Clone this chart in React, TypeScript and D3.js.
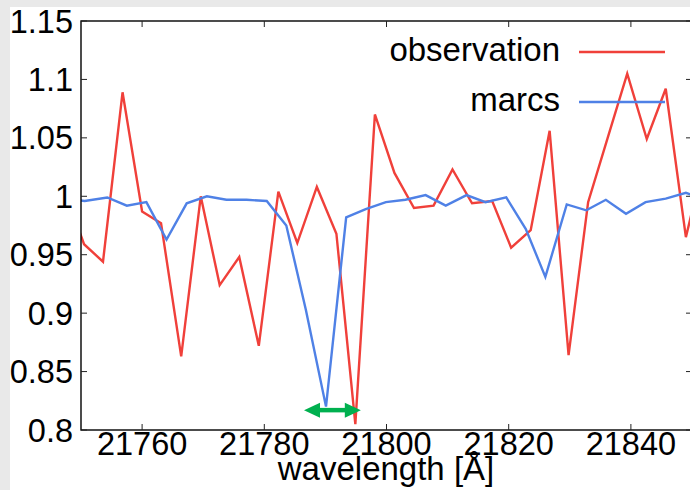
import React from "react";
import * as d3 from "d3";

const obsWave = [21747.3, 21750.5, 21753.6, 21756.8, 21760.0, 21763.1, 21766.4, 21769.6, 21772.7, 21775.9, 21779.1, 21782.3, 21785.4, 21788.6, 21791.8, 21794.9, 21798.1, 21801.3, 21804.5, 21807.7, 21810.8, 21814.0, 21817.3, 21820.4, 21823.6, 21826.7, 21829.8, 21833.0, 21836.2, 21839.4, 21842.6, 21845.7, 21849.0, 21852.2];
const obsFlux = [1.005, 0.959, 0.944, 1.089, 0.987, 0.977, 0.863, 1.0, 0.924, 0.948, 0.872, 1.004, 0.96, 1.008, 0.968, 0.805, 1.07, 1.02, 0.99, 0.992, 1.023, 0.994, 0.996, 0.956, 0.971, 1.056, 0.864, 0.995, 1.05, 1.105, 1.049, 1.092, 0.965, 1.035];

const modelWave = [21747.2, 21750.6, 21754.3, 21757.5, 21760.7, 21764.0, 21767.3, 21770.6, 21773.8, 21777.1, 21780.4, 21783.6, 21786.8, 21790.1, 21793.4, 21796.6, 21799.9, 21803.1, 21806.4, 21809.7, 21813.1, 21816.2, 21819.6, 21822.8, 21826.0, 21829.5, 21832.7, 21835.9, 21839.2, 21842.4, 21845.7, 21849.0, 21852.3];
const modelFlux = [0.998, 0.996, 0.999, 0.992, 0.995, 0.963, 0.994, 1.0, 0.997, 0.997, 0.996, 0.975, 0.903, 0.82, 0.982, 0.989, 0.995, 0.997, 1.001, 0.992, 1.001, 0.995, 0.999, 0.972, 0.931, 0.993, 0.988, 0.997, 0.985, 0.995, 0.998, 1.003, 0.997];

const xTicks = [21760, 21780, 21800, 21820, 21840];
const yTicks = [0.8, 0.85, 0.9, 0.95, 1.0, 1.05, 1.1, 1.15];
const yTickLabels = ["0.8", "0.85", "0.9", "0.95", "1", "1.05", "1.1", "1.15"];
const seriesNames = ["observation", "marcs"];
const arrowRange = [21786.5, 21795.8];
const arrowLevel = 0.817;

const RED = "#f0403a";
const BLUE = "#4f81e6";
const GREEN = "#00b04f";
const FONT = "'Liberation Sans', Arial, Helvetica, sans-serif";

export default function App() {
  const W = 690, H = 490;
  const left = 81, right = 692, top = 21, bottom = 430;
  const x = d3.scaleLinear().domain([21750, 21850]).range([left, right]);
  const y = d3.scaleLinear().domain([0.8, 1.15]).range([bottom, top]);
  const line = d3.line<[number, number]>().x(d => x(d[0])).y(d => y(d[1]));
  const obs = obsWave.map((w, i) => [w, obsFlux[i]] as [number, number]);
  const mod = modelWave.map((w, i) => [w, modelFlux[i]] as [number, number]);
  const tl = 6;
  const ax1 = x(arrowRange[0]), ax2 = x(arrowRange[1]), ay = y(arrowLevel);
  const headL = 16, headH = 7.5, shaft = 4.5;
  const legendY = [52, 102];
  const legendColors = [RED, BLUE];
  return (
    <svg width={W} height={H} style={{ position: "absolute", left: 0, top: 0 }} fontFamily={FONT}>
      <rect x={0} y={0} width={W} height={H} fill="#e9e9e9" />
      <rect x={10} y={7} width={W} height={H} fill="#ffffff" />
      <defs>
        <clipPath id="plotclip">
          <rect x={left} y={top} width={right - left} height={bottom - top} />
        </clipPath>
      </defs>
      <g clipPath="url(#plotclip)">
        <path d={line(obs) || ""} fill="none" stroke={RED} strokeWidth={2.4} strokeLinejoin="miter" />
        <path d={line(mod) || ""} fill="none" stroke={BLUE} strokeWidth={2.4} strokeLinejoin="miter" />
      </g>
      <g fill={GREEN}>
        <rect x={ax1 + headL - 1} y={ay - shaft / 2} width={ax2 - ax1 - 2 * headL + 2} height={shaft} />
        <path d={`M${ax1},${ay} L${ax1 + headL},${ay - headH} L${ax1 + headL},${ay + headH} Z`} />
        <path d={`M${ax2},${ay} L${ax2 - headL},${ay - headH} L${ax2 - headL},${ay + headH} Z`} />
      </g>
      <rect x={left} y={top} width={right - left} height={bottom - top} fill="none" stroke="#000" strokeWidth={1.4} />
      {xTicks.map(t => (
        <g key={"xt" + t}>
          <line x1={x(t)} x2={x(t)} y1={bottom} y2={bottom - tl} stroke="#222" strokeWidth={1} />
          <line x1={x(t)} x2={x(t)} y1={top} y2={top + tl} stroke="#222" strokeWidth={1} />
          <text x={x(t)} y={455} textAnchor="middle" fontSize={32.5} fill="#000">{t}</text>
        </g>
      ))}
      {yTicks.map((t, i) => (
        <g key={"yt" + t}>
          <line x1={left} x2={left + tl} y1={y(t)} y2={y(t)} stroke="#222" strokeWidth={1} />
          <line x1={right} x2={right - tl} y1={y(t)} y2={y(t)} stroke="#222" strokeWidth={1} />
          <text x={73} y={y(t) + 11.5} textAnchor="end" fontSize={32.5} fill="#000">{yTickLabels[i]}</text>
        </g>
      ))}
      <text x={386} y={480} textAnchor="middle" fontSize={33} fill="#000">wavelength [Å]</text>
      {seriesNames.map((n, i) => (
        <g key={n}>
          <text x={560} y={legendY[i] + 8.5} textAnchor="end" fontSize={33} fill="#000">{n}</text>
          <line x1={579} x2={665} y1={legendY[i]} y2={legendY[i]} stroke={legendColors[i]} strokeWidth={2.4} />
        </g>
      ))}
    </svg>
  );
}
